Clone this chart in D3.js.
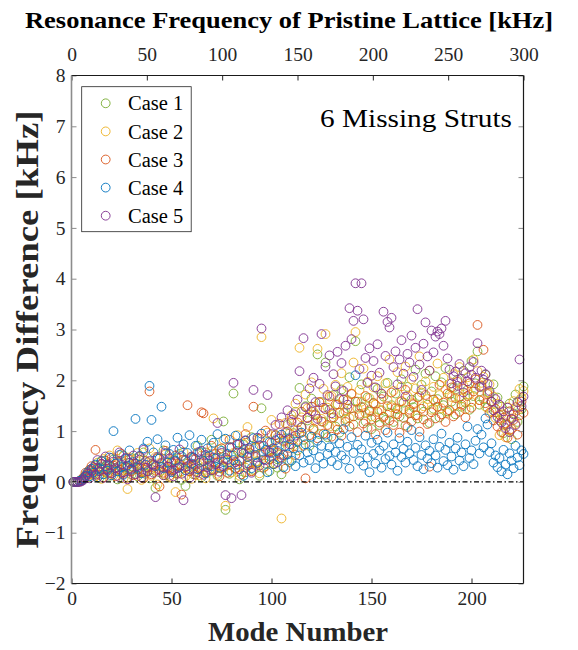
<!DOCTYPE html>
<html>
<head>
<meta charset="utf-8">
<script src="https://cdn.jsdelivr.net/npm/d3@7"></script>
<style>
  html, body { margin: 0; padding: 0; background: #fff; }
  svg text { font-family: "Liberation Serif", "Times New Roman", serif; }
</style>
</head>
<body>
<svg id="chart" width="578" height="650"></svg>
<script>
// Frequency difference [kHz] of each mode (1..226) relative to the pristine lattice
const case1 = [
  0, 0, 0, 0.01, 0.03, 0.06, 0.11, 0.09, 0.17, 0.21,
  0.15, 0.32, 0.24, 0.08, 0.41, 0.27, 0.19, 0.36, 0.12, 0.29,
  0.44, 0.22, 0.05, 0.31, 0.18, 0.52, 0.26, 0.09, 0.37, 0.14,
  0.28, 0.46, 0.11, 0.33, 0.21, 0.58, 0.16, 0.39, 0.07, 0.25,
  0.34, -0.12, 0.47, 0.19, 0.29, 0.62, 0.13, 0.38, 0.24, 0.08,
  0.43, 0.17, 0.31, 0.55, 0.04, 0.27, -0.08, 0.36, 0.21, 0.49,
  0.15, 0.33, 0.71, 0.26, 0.09, 0.41, 0.58, 0.18, 0.35, 0.83,
  0.22, 0.47, 0.12, 0.64, 0.31, 1.19, -0.55, 0.38, 0.16, 0.52,
  1.74, 0.27, 0.61, 0.05, 0.43, 0.73, 0.19, 0.56, 0.34, 0.88,
  0.24, 0.67, 0.41, 0.12, 1.45, 0.58, 0.36, 0.79, 0.21, 0.64,
  0.47, 0.92, 0.28, 0.71, 0.15, 0.53, 0.86, 1.12, 0.39, 0.74,
  0.96, 1.38, 0.62, 1.85, 1.07, 0.83, 1.49, 1.21, 0.71, 1.64,
  1.02, 1.33, 2.51, 0.94, 1.57, 1.18, 2.35, 0.88, 1.42, 1.26,
  1.71, 1.09, 1.53, 0.97, 1.82, 1.36, 1.24, 1.61, 2.06, 1.45,
  1.13, 2.77, 1.58, 1.31, 1.92, 1.47, 1.19, 1.66, 1.38, 1.04,
  1.55, 1.27, 1.83, 1.12, 1.41, 1.68, 1.22, 1.95, 1.36, 1.51,
  1.18, 1.74, 1.43, 1.29, 2.02, 1.56, 1.11, 1.87, 1.35, 1.62,
  1.47, 2.21, 1.25, 1.69, 1.91, 1.38, 2.13, 1.52, 1.16, 1.78,
  1.44, 2.08, 1.63, 1.27, 1.96, 1.51, 2.24, 1.39, 1.72, 1.58,
  1.85, 1.33, 2.01, 1.67, 1.48, 2.19, 1.56, 1.81, 1.42, 2.38,
  1.69, 1.94, 2.57, 1.52, 1.87, 1.63, 2.11, 1.46, 1.75, 1.58,
  1.92, 1.37, 1.66, 1.21, 1.48, 0.96, 1.29, 1.13, 1.54, 0.84,
  1.35, 1.72, 1.18, 1.61, 1.43, 1.88
];
const case2 = [
  0, 0, 0, 0.02, 0.04, 0.08, 0.14, 0.10, 0.22, 0.16,
  0.27, 0.11, 0.38, 0.21, 0.06, 0.45, 0.30, 0.17, 0.52, 0.24,
  0.13, 0.35, 0.62, 0.20, 0.41, 0.07, 0.29, -0.14, 0.48, 0.23,
  0.36, 0.15, 0.57, 0.26, 0.04, 0.43, 0.19, 0.32, 0.66, 0.12,
  0.28, 0.49, -0.05, 0.37, 0.22, 0.14, 0.54, 0.31, 0.09, 0.40,
  0.25, -0.20, 0.46, 0.18, 0.33, 0.59, 0.11, 0.39, 0.27, 0.06,
  0.44, 0.21, 0.35, 0.13, 0.52, 0.29, 0.07, 0.48, 0.24, 0.61,
  1.25, 0.38, 0.16, 0.55, 0.27, 0.83, -0.47, 0.42, 0.69, 0.19,
  0.57, 0.34, 0.92, 0.12, 0.46, 0.75, 0.28, 1.08, 0.51, 0.22,
  0.66, 0.39, 0.84, 0.17, 2.85, 0.58, 0.31, 0.97, 0.45, 1.22,
  0.62, 0.36, 0.88, 0.54, -0.72, 0.79, 1.16, 0.43, 0.95, 1.31,
  0.71, 1.54, 1.03, 2.64, 1.27, 0.89, 1.72, 1.45, 1.11, 1.96,
  1.38, 1.19, 2.62, 1.57, 1.24, 1.83, 2.91, 1.46, 1.09, 1.69,
  1.33, 1.91, 1.52, 1.18, 2.14, 1.62, 1.39, 1.87, 1.26, 1.74,
  2.35, 2.95, 1.44, 1.81, 1.58, 2.23, 1.36, 1.97, 1.65, 1.29,
  1.86, 1.52, 2.08, 1.41, 1.73, 1.28, 1.94, 1.61, 2.41, 1.47,
  1.79, 1.34, 2.16, 1.57, 1.88, 1.43, 2.27, 1.69, 1.38, 2.02,
  1.55, 1.84, 1.31, 2.47, 1.76, 1.49, 1.98, 1.63, 2.19, 1.42,
  1.87, 1.58, 2.33, 1.71, 1.45, 2.05, 1.82, 1.36, 1.93, 1.67,
  2.12, 1.51, 1.78, 2.26, 1.64, 1.89, 1.43, 2.06, 1.72, 1.57,
  2.41, 1.83, 2.18, 1.61, 1.95, 2.07, 1.48, 1.76, 1.92, 1.39,
  1.68, 1.26, 1.54, 0.92, 1.33, 1.11, 0.88, 1.47, 1.02, 1.25,
  1.59, 1.14, 1.41, 1.83, 1.66, 1.79
];
const case3 = [
  0, 0, 0, 0.01, 0.05, 0.09, 0.18, 0.13, 0.24, 0.31,
  0.20, 0.63, 0.28, 0.14, 0.35, 0.09, 0.42, 0.26, 0.18, 0.47,
  0.32, 0.11, 0.39, 0.24, 0.55, 0.16, 0.30, 0.08, 0.44, 0.21,
  0.13, 0.36, 0.25, 0.50, 0.19, 0.07, 0.41, 0.28, 1.78, 0.15,
  0.33, 0.22, 0.46, -0.09, 0.30, 0.18, 0.61, 0.27, 0.12, 0.38,
  0.23, 0.52, 0.16, 0.35, -0.25, 0.44, 0.29, 1.51, 0.21, 0.47,
  0.34, 0.14, 0.58, 0.26, 1.37, 1.35, 0.19, 0.45, 0.32, 0.71,
  0.24, 0.55, 0.38, 0.11, 0.66, 0.29, 0.47, 0.18, 0.83, 0.35,
  0.52, 0.26, 0.74, 0.41, 0.15, 0.63, 0.94, 0.32, 0.57, 0.21,
  1.48, 0.69, 0.37, 0.85, 0.53, 0.28, 1.01, 0.61, 0.44, 0.77,
  0.35, 0.92, 0.58, 1.14, 0.48, 0.81, 0.26, 0.99, 0.67, 1.22,
  0.84, 0.53, 1.17, 0.96, 1.38, 0.71, 0.07, 1.26, 0.92, 1.48,
  1.05, 1.31, 0.86, 1.57, 1.19, 0.95, 1.43, 1.12, 1.68, 0.89,
  1.27, 1.52, 1.03, 1.36, 0.91, 1.62, 1.18, 1.44, 1.09, 1.73,
  1.29, 1.58, 0.98, 1.34, 1.47, 1.15, 1.69, 1.06, 1.41, 1.23,
  1.55, 0.94, 1.38, 1.17, 1.63, 1.28, 1.02, 1.49, 1.21, 1.76,
  1.12, 1.45, 1.33, 0.97, 1.59, 1.26, 1.81, 1.08, 1.42, 1.19,
  1.53, 1.31, 1.66, 0.99, 1.44, 1.23, 1.71, 1.14, 0.30, 1.37,
  1.62, 1.25, 1.48, 1.91, 1.33, 1.56, 1.18, 1.74, 1.41, 1.86,
  1.29, 1.65, 1.97, 1.38, 1.52, 1.83, 1.27, 1.69, 1.94, 1.46,
  1.78, 2.02, 3.09, 1.61, 1.89, 2.60, 1.55, 1.73, 1.36, 1.58,
  1.21, 1.44, 1.09, 1.32, 0.98, 1.26, 1.15, 0.87, 1.39, 1.04,
  1.22, 1.47, 0.93, 1.31, 1.58, 1.36
];
const case4 = [
  0, 0, 0, 0.02, 0.03, 0.07, 0.12, 0.19, 0.11, 0.26,
  0.18, 0.34, 0.09, 0.27, 0.41, 0.15, 0.31, 0.22, 0.48, 0.13,
  1.00, 0.36, 0.21, 0.53, 0.29, 0.14, 0.45, 0.32, 0.62, 0.24,
  0.39, 1.24, 0.28, 0.51, 0.17, 0.66, 0.34, 0.79, 1.89, 1.22,
  0.58, 0.31, 0.84, 0.46, 1.48, 0.27, 0.72, 0.38, 0.55, 0.19,
  0.63, 0.42, 0.87, 0.29, 0.51, 0.74, 0.23, 0.57, 0.92, 0.36,
  0.48, 0.71, 0.25, 0.59, 0.83, 0.41, 0.17, 0.66, 0.52, 0.31,
  0.77, 0.46, 0.94, 0.28, 0.61, 0.39, 0.85, 0.55, 0.22, 0.68,
  0.43, 0.91, 0.34, 0.75, 0.58, 0.12, 0.81, 0.49, 0.67, 0.27,
  0.86, 0.53, 0.38, 0.72, 0.95, 0.44, 0.63, 0.19, 0.78, 0.57,
  0.35, 0.82, 0.61, 0.47, 0.93, 0.29, 0.71, 0.54, 0.86, 0.42,
  0.66, 0.31, 0.79, 0.52, 0.97, 0.38, 0.74, 0.58, 0.43, 0.89,
  0.62, 0.27, 0.81, 0.49, 0.71, 0.36, 0.93, 0.55, 0.68, 0.41,
  0.85, 0.59, 0.33, 0.76, 0.52, 1.04, 0.44, 0.69, 0.26, 0.88,
  0.57, 2.10, 0.73, 0.41, 0.64, 0.32, 0.91, 0.48, 0.19, 0.77,
  0.55, 0.36, 0.83, 0.62, 0.28, 0.71, 0.45, 0.97, 0.51, 0.34,
  0.74, 0.58, 0.22, 0.86, 0.49, 0.65, 0.38, 0.79, 0.56, 1.02,
  0.43, 0.67, 0.31, 0.88, 0.53, 0.25, 0.72, 0.46, 0.61, 0.37,
  0.84, 0.52, 0.28, 0.69, 0.95, 0.41, 0.63, 0.33, 0.77, 0.50,
  0.24, 0.66, 0.87, 0.42, 0.58, 0.31, 0.74, 1.09, 0.47, 0.62,
  0.35, 0.81, 1.04, 0.56, 0.93, 0.68, 1.25, 1.13, 0.59, 0.76,
  0.38, 0.52, 0.29, 0.47, 0.21, 0.63, 0.34, 0.15, 0.56, 0.42,
  0.27, 0.71, 0.48, 0.33, 0.62, 0.55
];
const case5 = [
  0, 0, 0, 0, 0.01, 0.04, 0.10, 0.16, 0.07, 0.23,
  0.29, 0.14, 0.43, 0.21, 0.36, 0.08, 0.50, 0.25, 0.33, 0.17,
  0.40, 0.27, 0.12, 0.58, 0.34, 0.19, 0.47, 0.05, 0.38, 0.26,
  0.52, 0.15, 0.31, 0.44, 0.09, 0.63, 0.28, 0.21, 0.41, 0.35,
  0.18, -0.30, 0.49, 0.24, 0.37, 0.13, 0.57, 0.30, 0.46, 0.22,
  0.11, 0.39, 0.27, 0.64, 0.16, -0.36, 0.43, 0.31, 0.08, 0.50,
  0.26, 0.45, 0.19, 0.38, 0.61, 0.14, 0.53, 0.29, 0.42, 0.23,
  0.48, 0.35, 1.16, 0.20, 0.57, 0.31, -0.26, 0.44, 0.68, -0.32,
  1.95, 0.39, 0.73, 0.25, -0.26, 0.56, 0.82, 0.37, 0.64, 0.18,
  1.81, 0.49, 0.87, 0.32, 3.02, 0.71, 0.43, 1.71, 0.58, 0.94,
  0.66, 1.12, 0.39, 0.85, 1.27, 0.53, 0.98, 1.41, 0.74, 1.18,
  1.33, 0.91, 1.62, 2.18, 1.08, 2.83, 1.47, 1.26, 1.84, 1.39,
  2.05, 1.57, 1.24, 1.93, 2.91, 1.46, 2.27, 1.71, 2.49, 1.35,
  2.12, 1.88, 2.56, 1.63, 2.34, 1.79, 2.68, 1.52, 3.42, 2.81,
  3.17, 3.91, 3.37, 2.22, 3.91, 3.20, 2.44, 1.95, 2.63, 2.09,
  2.38, 1.86, 2.71, 2.15, 1.74, 3.35, 2.48, 3.15, 3.04, 3.23,
  2.26, 2.57, 1.92, 2.41, 2.79, 2.13, 1.68, 2.52, 2.35, 2.88,
  2.07, 2.64, 3.40, 2.31, 1.81, 2.72, 3.14, 2.47, 2.19, 2.98,
  2.55, 2.86, 2.96, 2.91, 3.02, 2.68, 3.17, 2.43, 2.21, 1.94,
  2.08, 2.17, 1.89, 2.32, 2.03, 1.76, 2.14, 1.98, 2.26, 2.11,
  2.36, 2.05, 2.73, 1.87, 2.19, 2.01, 2.12, 1.93, 1.79, 1.58,
  1.41, 1.63, 1.28, 1.52, 1.17, 1.39, 1.06, 1.46, 0.98, 1.24,
  1.33, 1.12, 1.57, 2.41, 1.49, 1.68
];

const seriesNames = ["Case 1", "Case 2", "Case 3", "Case 4", "Case 5"];
const seriesValues = [case1, case2, case3, case4, case5];
const seriesColors = ["#77AC30", "#EDB120", "#D95319", "#0072BD", "#7E2F8E"];

const modeTicks = [0, 50, 100, 150, 200];
const freqTicks = [0, 50, 100, 150, 200, 250, 300];
const diffTicks = [-2, -1, 0, 1, 2, 3, 4, 5, 6, 7, 8];

const titleTop = "Resonance Frequency of Pristine Lattice [kHz]";
const titleX = "Mode Number";
const titleY = "Frequency Difference [kHz]";
const annotation = "6 Missing Struts";

const svg = d3.select("#chart");
const plot = { left: 71.5, right: 523.5, top: 75.5, bottom: 583.5 };

const x = d3.scaleLinear().domain([0, 226]).range([plot.left, plot.right]);
const xTop = d3.scaleLinear().domain([0, 300]).range([plot.left, plot.right]);
const y = d3.scaleLinear().domain([-2, 8]).range([plot.bottom, plot.top]);

const tickColor = "#262626";

// scatter of every case, one circle per mode
seriesValues.forEach((vals, i) => {
  svg.append("g")
    .selectAll("circle")
    .data(vals)
    .join("circle")
    .attr("cx", (d, k) => x(k + 1))
    .attr("cy", d => y(d))
    .attr("r", 4.4)
    .attr("fill", "none")
    .attr("stroke", seriesColors[i])
    .attr("stroke-width", 0.9);
});

// zero reference (dash-dot)
svg.append("line")
  .attr("x1", x(0)).attr("x2", x(226))
  .attr("y1", y(0)).attr("y2", y(0))
  .attr("stroke", "#000")
  .attr("stroke-width", 1.3)
  .attr("stroke-dasharray", "5,2.5,1.5,2.5");

// axes (ticks point inward)
function styleAxis(g) {
  g.select(".domain").remove();
  g.selectAll(".tick line").attr("stroke", tickColor);
  g.selectAll(".tick text")
    .attr("fill", tickColor)
    .style("font-size", "19.5px")
    .style("font-family", "'Liberation Serif', serif");
}

svg.append("g")
  .attr("transform", `translate(0,${plot.bottom})`)
  .call(d3.axisBottom(x).tickValues(modeTicks).tickSize(-5).tickPadding(8))
  .call(styleAxis);

svg.append("g")
  .attr("transform", `translate(0,${plot.top})`)
  .call(d3.axisTop(xTop).tickValues(freqTicks).tickSize(-5).tickPadding(15))
  .call(styleAxis);

svg.append("g")
  .attr("transform", `translate(${plot.left},0)`)
  .call(d3.axisLeft(y).tickValues(diffTicks).tickFormat(d3.format("d")).tickSize(-5).tickPadding(6))
  .call(styleAxis)
  .call(g => g.selectAll(".tick line").attr("stroke", "#8c8c8c"));

svg.append("g")
  .attr("transform", `translate(${plot.right},0)`)
  .call(d3.axisRight(y).tickValues(diffTicks).tickSize(-5).tickFormat(""))
  .call(g => g.select(".domain").remove())
  .call(g => g.selectAll(".tick line").attr("stroke", "#8c8c8c"));

// frame
svg.append("line").attr("x1", plot.left).attr("x2", plot.right)
  .attr("y1", plot.top).attr("y2", plot.top).attr("stroke", "#1a1a1a").attr("stroke-width", 1.2);
svg.append("line").attr("x1", plot.left).attr("x2", plot.right)
  .attr("y1", plot.bottom).attr("y2", plot.bottom).attr("stroke", "#1a1a1a").attr("stroke-width", 1.2);
svg.append("line").attr("x1", plot.right).attr("x2", plot.right)
  .attr("y1", plot.top).attr("y2", plot.bottom).attr("stroke", "#1a1a1a").attr("stroke-width", 1.2);
svg.append("line").attr("x1", plot.left).attr("x2", plot.left)
  .attr("y1", plot.top).attr("y2", plot.bottom).attr("stroke", "#8c8c8c").attr("stroke-width", 1.6);

// titles
svg.append("text")
  .attr("x", 289).attr("y", 28)
  .attr("text-anchor", "middle")
  .attr("textLength", 528).attr("lengthAdjust", "spacingAndGlyphs")
  .style("font-size", "24px").style("font-weight", "bold")
  .attr("fill", "#000")
  .text(titleTop);

svg.append("text")
  .attr("x", 298).attr("y", 641)
  .attr("text-anchor", "middle")
  .attr("textLength", 180).attr("lengthAdjust", "spacingAndGlyphs")
  .style("font-size", "28px").style("font-weight", "bold")
  .attr("fill", "#262626")
  .text(titleX);

svg.append("text")
  .attr("transform", `translate(38,${(plot.top + plot.bottom) / 2}) rotate(-90)`)
  .attr("text-anchor", "middle")
  .attr("textLength", 438).attr("lengthAdjust", "spacingAndGlyphs")
  .style("font-size", "31px").style("font-weight", "bold")
  .attr("fill", "#262626")
  .text(titleY);

svg.append("text")
  .attr("x", 512).attr("y", 127)
  .attr("text-anchor", "end")
  .attr("textLength", 192).attr("lengthAdjust", "spacingAndGlyphs")
  .style("font-size", "25px")
  .attr("fill", "#000")
  .text(annotation);

// legend
const legend = svg.append("g");
legend.append("rect")
  .attr("x", 81.7).attr("y", 86.7)
  .attr("width", 109.5).attr("height", 145)
  .attr("fill", "#fff")
  .attr("stroke", "#262626")
  .attr("stroke-width", 0.8);
const rowY = d3.scalePoint().domain(seriesNames).range([103.3, 215.7]);
seriesNames.forEach((name, i) => {
  legend.append("circle")
    .attr("cx", 105.7).attr("cy", rowY(name))
    .attr("r", 4.4)
    .attr("fill", "none")
    .attr("stroke", seriesColors[i])
    .attr("stroke-width", 0.9);
  legend.append("text")
    .attr("x", 128).attr("y", rowY(name))
    .attr("dy", "0.35em")
    .style("font-size", "20.5px")
    .attr("fill", "#000")
    .text(name);
});
</script>
</body>
</html>
